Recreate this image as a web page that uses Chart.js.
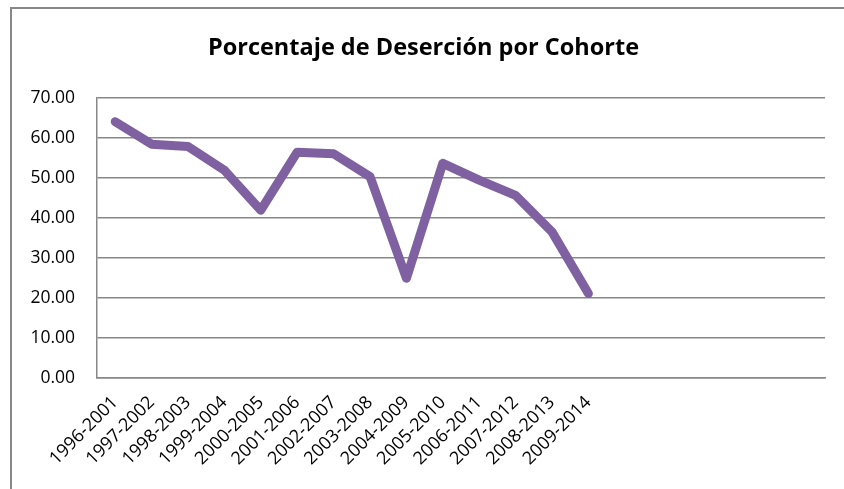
<!DOCTYPE html>
<html lang="es">
<head>
  <meta charset="UTF-8">
  <title>Porcentaje de Deserción por Cohorte</title>
  <script src="https://cdn.jsdelivr.net/npm/chart.js"></script>
  <style>
    html, body { margin: 0; padding: 0; background: #fff; overflow: hidden; }
    canvas { display: block; }
  </style>
</head>
<body>
  <canvas id="desercion" width="844" height="489"></canvas>

  <script>
    // datos
    const cohortes = ['1996-2001', '1997-2002', '1998-2003', '1999-2004', '2000-2005',
      '2001-2006', '2002-2007', '2003-2008', '2004-2009', '2005-2010',
      '2006-2011', '2007-2012', '2008-2013', '2009-2014'];
    const porcentajes = [64.0, 58.4, 57.8, 51.9, 41.9, 56.4, 56.0, 50.3, 24.9, 53.6, 49.4, 45.6, 36.5, 21.1];
    const espaciosVacios = ['', '', '', '', '', ''];   // el eje de Excel tiene 20 casillas
    const yTicks = [0, 10, 20, 30, 40, 50, 60, 70];

    const fuente = "'Open Sans', 'Noto Sans', sans-serif";
    const gris = '#888888';

    // marco del area del grafico (solo borde superior e izquierdo visibles)
    const marco = {
      id: 'marco',
      beforeDraw(chart) {
        const c = chart.ctx;
        c.save();
        c.strokeStyle = gris;
        c.lineWidth = 2;
        c.beginPath();
        c.moveTo(11, chart.height);
        c.lineTo(11, 8);
        c.lineTo(chart.width, 8);
        c.stroke();
        c.restore();
      }
    };

    const ctx = document.getElementById('desercion').getContext('2d');
    new Chart(ctx, {
      type: 'line',
      data: {
        labels: cohortes.concat(espaciosVacios),
        datasets: [{
          label: 'Deserción',
          data: porcentajes,
          borderColor: '#7f60a1',
          borderWidth: 9,
          borderCapStyle: 'round',
          borderJoinStyle: 'round',
          pointRadius: 0,
          tension: 0,
          fill: false
        }]
      },
      options: {
        responsive: false,
        animation: false,
        layout: { padding: { left: 22, right: 19, top: 0, bottom: 0 } },
        plugins: {
          legend: { display: false },
          tooltip: { enabled: false },
          title: {
            display: true,
            text: 'Porcentaje de Deserción por Cohorte',
            color: '#000',
            font: { family: fuente, size: 23.5, weight: 'bold' },
            padding: { top: 34, bottom: 35.5 }
          }
        },
        scales: {
          x: {
            offset: true,
            grid: { display: false, drawTicks: false },
            border: { display: true, color: gris, width: 1.5 },
            ticks: {
              color: '#000',
              font: { family: fuente, size: 18 },
              minRotation: 45,
              maxRotation: 45,
              autoSkip: false,
              padding: 14
            },
            afterFit(scale) { scale.height = 111; }
          },
          y: {
            min: 0,
            max: 70,
            afterBuildTicks(scale) { scale.ticks = yTicks.map(v => ({ value: v })); },
            grid: { color: gris, lineWidth: 1.5, drawTicks: false },
            border: { display: true, color: gris, width: 1.5 },
            ticks: {
              color: '#000',
              font: { family: fuente, size: 17.5 },
              padding: 22,
              callback: v => v.toFixed(2)
            },
            afterFit(scale) { scale.width = 75; }
          }
        }
      },
      plugins: [marco]
    });
  </script>
</body>
</html>
